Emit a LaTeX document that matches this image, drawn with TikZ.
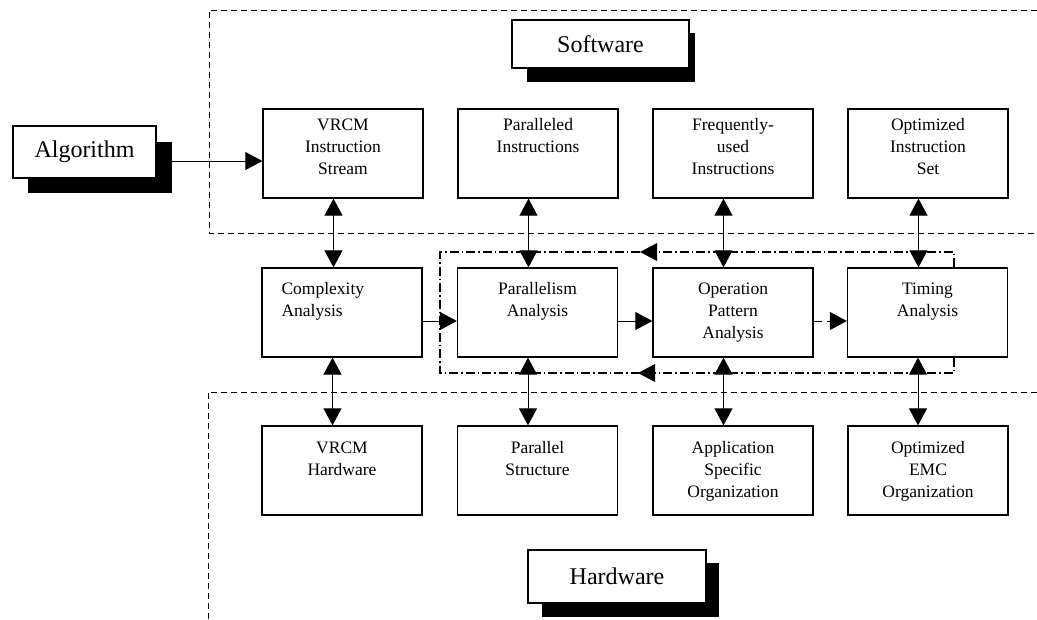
\documentclass[tikz,border=0pt]{standalone}
\usepackage{fontspec}
\setmainfont{Liberation Serif}
\usetikzlibrary{arrows.meta}
\begin{document}
\begin{tikzpicture}[x=1pt,y=-1pt,
  box/.style={draw, line width=1.3pt, fill=white, minimum width=160pt, minimum height=89pt, inner sep=0pt},
  lbl/.style={inner sep=0pt, align=center, font=\fontsize{17.5}{22}\selectfont},
  big/.style={draw, line width=1.3pt, fill=white, inner sep=0pt, font=\fontsize{24}{28}\selectfont},
  shadowfill/.style={fill=black},
  region/.style={line width=1pt, dash pattern=on 6pt off 4pt},
  loop/.style={line width=1.1pt, dash pattern=on 9pt off 3pt on 1.5pt off 3pt},
  arr/.style={line width=1pt, -{Triangle[length=17pt,width=18pt]}},
  darr/.style={line width=1pt, {Triangle[length=17pt,width=18pt]}-{Triangle[length=17pt,width=18pt]}}
]
\useasboundingbox (0,0) rectangle (1037,619);
\fill[white] (0,0) rectangle (1037,619);

% dashed regions
\draw[region] (1037,10) -- (209,10) -- (209,233) -- (1037,233);
\draw[region] (1037,392) -- (208,392) -- (208,619);

% shadows
\fill[shadowfill] (28,142) rectangle (172,193);
\fill[shadowfill] (527,33) rectangle (695,82);
\fill[shadowfill] (542,563) rectangle (719,617);

% title boxes
\node[big, minimum width=143pt, minimum height=52pt] (alg) at (84.5,152) {Algorithm};
\node[big, minimum width=177pt, minimum height=48pt] (sw) at (600.5,44) {Software};
\node[big, minimum width=178pt, minimum height=53pt] (hw) at (617,576.5) {Hardware};

% top row
\node[box] (vis) at (343,153.5) {};
\node[box] (pin) at (538,153.5) {};
\node[box] (fui) at (733,153.5) {};
\node[box] (ois) at (928,153.5) {};
% middle row
\node[box] (cpx) at (342,312.5) {};
\node[box] (par) at (537.5,312.5) {};
\node[box] (opa) at (733,312.5) {};
\node[box] (tim) at (927.5,312.5) {};
% bottom row
\node[box] (vhw) at (342,470.5) {};
\node[box] (pst) at (537.5,470.5) {};
\node[box] (aso) at (733,470.5) {};
\node[box] (emc) at (928,470.5) {};

% labels
\node[lbl, anchor=north] (visT) at ([yshift=-10pt]vis.north) {VRCM\\Instruction\\Stream};
\node[lbl, anchor=north] (pinT) at ([yshift=-10pt]pin.north) {Paralleled\\Instructions};
\node[lbl, anchor=north] (fuiT) at ([yshift=-10pt]fui.north) {Frequently-\\used\\Instructions};
\node[lbl, anchor=north] (oisT) at ([yshift=-10pt]ois.north) {Optimized\\Instruction\\Set};
\node[lbl, anchor=north west, align=left] (cpxT) at ([xshift=20pt,yshift=-15pt]cpx.north west) {Complexity\\Analysis};
\node[lbl, anchor=north] (parT) at ([yshift=-15pt]par.north) {Parallelism\\Analysis};
\node[lbl, anchor=north] (opaT) at ([yshift=-15pt]opa.north) {Operation\\Pattern\\Analysis};
\node[lbl, anchor=north] (timT) at ([yshift=-15pt]tim.north) {Timing\\Analysis};
\node[lbl, anchor=north] (vhwT) at ([yshift=-16pt]vhw.north) {VRCM\\Hardware};
\node[lbl, anchor=north] (pstT) at ([yshift=-16pt]pst.north) {Parallel\\Structure};
\node[lbl, anchor=north] (asoT) at ([yshift=-16pt]aso.north) {Application\\Specific\\Organization};
\node[lbl, anchor=north] (emcT) at ([yshift=-16pt]emc.north) {Optimized\\EMC\\Organization};

% algorithm arrow
\coordinate (algout) at (172,161);
\draw[arr] (algout) -- (vis.west |- algout);

% vertical double arrows
\foreach \a/\b in {vis/cpx,pin/par,fui/opa,ois/tim,cpx/vhw,par/pst,opa/aso,tim/emc}{
  \draw[darr] ([xshift=-9.5pt]\a.south) -- ([xshift=-9.5pt]\a.south |- \b.north);
}

% horizontal arrows
\draw[arr] ([yshift=-8.5pt]cpx.east) -- ([yshift=-8.5pt]par.west);
\draw[arr] ([yshift=-8.5pt]par.east) -- ([yshift=-8.5pt]opa.west);
\draw[arr, dash pattern=on 8pt off 5pt] ([yshift=-8.5pt]opa.east) -- ([yshift=-8.5pt]tim.west);

% feedback loop
\coordinate (lt) at (954,252);
\coordinate (lb) at (954,373);
\coordinate (ltl) at (440,252);
\coordinate (lbl) at (440,373);
\coordinate (mt) at (640,252);
\coordinate (mb) at (638,373);
\draw[loop] (tim.north -| lt) -- (lt) -- (mt);
\draw[loop] (mt) -- (ltl) -- (lbl) -- (mb);
\draw[loop] (tim.south -| lb) -- (lb) -- (mb);
\fill (mt) -- ++(17,-9) -- ++(0,18) -- cycle;
\fill (mb) -- ++(17,-9) -- ++(0,18) -- cycle;
\end{tikzpicture}
\end{document}
